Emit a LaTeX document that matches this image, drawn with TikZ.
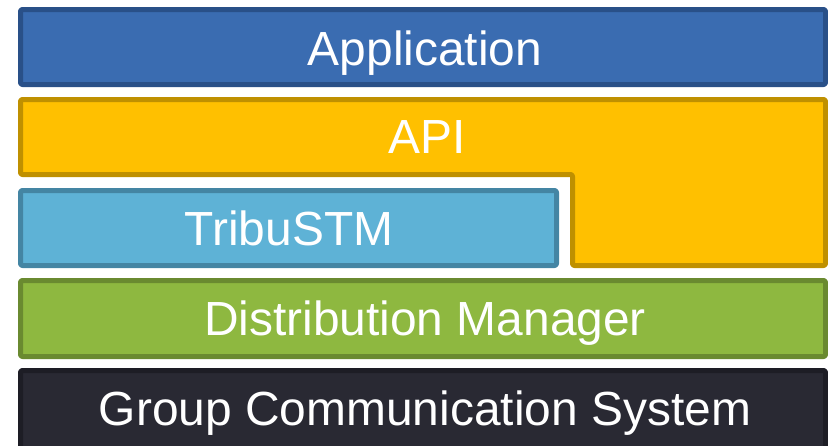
\documentclass[tikz,border=0pt]{standalone}
\usepackage{fontspec}
\setmainfont{Liberation Sans}
\definecolor{appfill}{RGB}{58,108,177}
\definecolor{appline}{RGB}{41,80,136}
\definecolor{apifill}{RGB}{255,192,0}
\definecolor{apiline}{RGB}{191,144,0}
\definecolor{tribfill}{RGB}{94,178,214}
\definecolor{tribline}{RGB}{68,133,163}
\definecolor{distfill}{RGB}{142,184,64}
\definecolor{distline}{RGB}{106,138,48}
\definecolor{gcsfill}{RGB}{41,41,51}
\definecolor{gcsline}{RGB}{29,29,37}
\tikzset{
  layer/.style={line width=5pt, rounded corners=2pt, line join=round},
  lbl/.style={anchor=base, text=white, inner sep=0pt, font=\fontsize{47.9}{58}\selectfont}
}
\begin{document}
\begin{tikzpicture}[x=1pt,y=-1pt]
\useasboundingbox (0,0) rectangle (828,445);
\begin{scope}
\clip (0,0) rectangle (828,445);
\draw[layer, fill=appfill, draw=appline] (20.5,9.5) rectangle (825.5,84.5);
\draw[layer, fill=apifill, draw=apiline] (20.5,99.5) -- (825.5,99.5) -- (825.5,265.5) -- (572.5,265.5) -- (572.5,174.5) -- (20.5,174.5) -- cycle;
\draw[layer, fill=tribfill, draw=tribline] (20.5,190.5) rectangle (556.5,265.5);
\draw[layer, fill=distfill, draw=distline] (20.5,280.5) rectangle (825.5,356.5);
\draw[layer, fill=gcsfill, draw=gcsline] (20.5,370.5) rectangle (825.5,452);
\end{scope}
\node[lbl] (app) at (425,65) {Application};
\node[lbl] (api) at (427,153) {API};
\node[lbl] (trib) at (289,245) {TribuSTM};
\node[lbl] (dist) at (425,335) {Distribution Manager};
\node[lbl] (gcs) at (425,425) {Group Communication System};
\end{tikzpicture}
\end{document}
